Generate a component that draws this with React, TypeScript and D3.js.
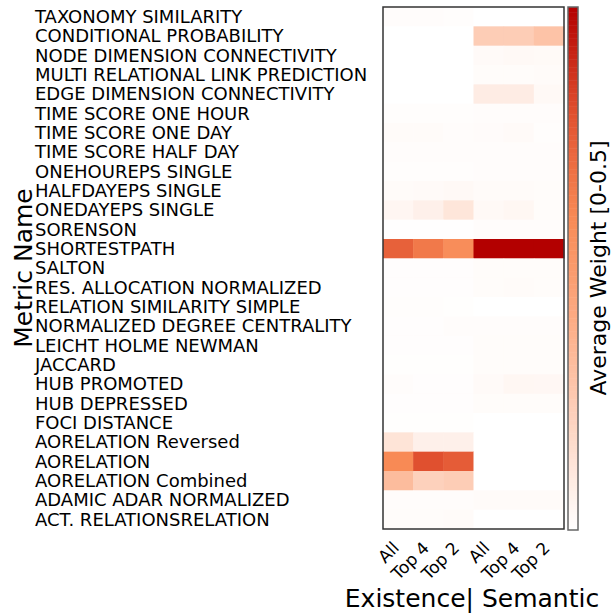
import React from "react";
import * as d3 from "d3";

const metrics = [
  "TAXONOMY SIMILARITY",
  "CONDITIONAL PROBABILITY",
  "NODE DIMENSION CONNECTIVITY",
  "MULTI RELATIONAL LINK PREDICTION",
  "EDGE DIMENSION CONNECTIVITY",
  "TIME SCORE ONE HOUR",
  "TIME SCORE ONE DAY",
  "TIME SCORE HALF DAY",
  "ONEHOUREPS SINGLE",
  "HALFDAYEPS SINGLE",
  "ONEDAYEPS SINGLE",
  "SORENSON",
  "SHORTESTPATH",
  "SALTON",
  "RES. ALLOCATION NORMALIZED",
  "RELATION SIMILARITY SIMPLE",
  "NORMALIZED DEGREE CENTRALITY",
  "LEICHT HOLME NEWMAN",
  "JACCARD",
  "HUB PROMOTED",
  "HUB DEPRESSED",
  "FOCI DISTANCE",
  "AORELATION Reversed",
  "AORELATION",
  "AORELATION Combined",
  "ADAMIC ADAR NORMALIZED",
  "ACT. RELATIONSRELATION",
];

const columns = ["All", "Top 4", "Top 2", "All ", "Top 4 ", "Top 2 "];
const columnLabels = ["All", "Top 4", "Top 2", "All", "Top 4", "Top 2"];

// one row per metric: All, Top 4, Top 2
const existence = [
  [0.006, 0.006, 0.005],
  [0, 0, 0],
  [0, 0, 0],
  [0, 0, 0],
  [0, 0, 0],
  [0.005, 0.005, 0.005],
  [0.01, 0.01, 0.006],
  [0.006, 0.006, 0.006],
  [0.005, 0.005, 0.005],
  [0.01, 0.012, 0.015],
  [0.022, 0.035, 0.06],
  [0.002, 0.002, 0.002],
  [0.37, 0.33, 0.29],
  [0.004, 0.004, 0.004],
  [0.004, 0.004, 0.004],
  [0.005, 0.005, 0.003],
  [0.004, 0.004, 0.006],
  [0.004, 0.004, 0.004],
  [0.003, 0.003, 0.003],
  [0.006, 0.004, 0.004],
  [0.004, 0.004, 0.004],
  [0.003, 0.003, 0.003],
  [0.065, 0.035, 0.035],
  [0.3, 0.4, 0.38],
  [0.16, 0.11, 0.12],
  [0.006, 0.006, 0.006],
  [0.008, 0.008, 0.01],
];

const semantic = [
  [0, 0, 0],
  [0.12, 0.12, 0.145],
  [0.012, 0.015, 0.013],
  [0.008, 0.008, 0.01],
  [0.045, 0.045, 0.015],
  [0.006, 0.006, 0.006],
  [0.009, 0.012, 0.005],
  [0.006, 0.006, 0.006],
  [0.006, 0.006, 0.006],
  [0.01, 0.01, 0.008],
  [0.015, 0.02, 0.008],
  [0.006, 0.006, 0.006],
  [0.5, 0.5, 0.5],
  [0.008, 0.008, 0.008],
  [0.008, 0.01, 0.008],
  [0, 0, 0],
  [0.006, 0.006, 0.006],
  [0.008, 0.008, 0.008],
  [0.008, 0.008, 0.008],
  [0.012, 0.02, 0.018],
  [0.008, 0.008, 0.008],
  [0, 0, 0],
  [0, 0, 0],
  [0, 0, 0],
  [0, 0, 0],
  [0.01, 0.01, 0.01],
  [0, 0, 0],
];

const colorStops = [0, 0.1, 0.2, 0.3, 0.4, 0.5];
const colorRange = ["#ffffff", "#fdd5c2", "#fcac85", "#f88a55", "#e0502f", "#b30000"];

const W = 613;
const H = 614;
const left = 383;
const right = 564;
const top = 7;
const bottom = 529;
const font = "DejaVu Sans, sans-serif";

export default function App() {
  const x = d3.scaleBand().domain(columns).range([left, right]);
  const y = d3.scaleBand().domain(metrics).range([top, bottom]);
  const color = d3.scaleLinear<string>().domain(colorStops).range(colorRange).clamp(true);

  const cells = metrics.flatMap((m, i) =>
    existence[i].concat(semantic[i]).map((v, j) => ({ m, c: columns[j], v }))
  );

  const cbX = 568;
  const cbW = 10;
  const step = 0.5 / 200;
  const cbY = d3.scaleLinear().domain([0, 0.5]).range([bottom + 1, top]);
  const cbSteps = d3.range(0, 0.5, step);

  return (
    <svg width={W} height={H} style={{ position: "absolute", left: 0, top: 0 }} fontFamily={font}>
      <rect width={W} height={H} fill="#fff" />
      {cells.map((d, i) => (
        <rect
          key={i}
          x={x(d.c)}
          y={y(d.m)}
          width={x.bandwidth() + 0.5}
          height={y.bandwidth() + 0.5}
          fill={color(d.v)}
        />
      ))}
      <rect x={left} y={top} width={right - left} height={bottom - top} fill="none" stroke="#333" strokeWidth={1.5} />

      {metrics.map((m) => (
        <text key={m} x={35} y={y(m)! + y.bandwidth() / 2} dy="0.36em" fontSize={18} fill="#000">
          {m}
        </text>
      ))}

      {columns.map((c, i) => (
        <text
          key={c}
          transform={`translate(${x(c)! + x.bandwidth() / 2 + 2},${bottom + 20}) rotate(-45)`}
          textAnchor="end"
          fontSize={17}
          fill="#000"
        >
          {columnLabels[i]}
        </text>
      ))}

      <text x={472} y={607} textAnchor="middle" fontSize={25} fill="#000">
        Existence| Semantic
      </text>
      <text transform={`translate(32,${(top + bottom) / 2}) rotate(-90)`} textAnchor="middle" fontSize={25} fill="#000">
        Metric Name
      </text>

      {cbSteps.map((v) => (
        <rect
          key={v}
          x={cbX}
          y={cbY(v + step)}
          width={cbW}
          height={Math.abs(cbY(0) - cbY(step)) + 0.5}
          fill={color(v + step / 2)}
        />
      ))}
      <rect x={cbX} y={top} width={cbW} height={bottom + 1 - top} fill="none" stroke="#666" strokeWidth={1.5} />
      <text transform={`translate(606,${(top + bottom) / 2}) rotate(-90)`} textAnchor="middle" fontSize={22} fill="#000">
        Average Weight [0-0.5]
      </text>
    </svg>
  );
}
